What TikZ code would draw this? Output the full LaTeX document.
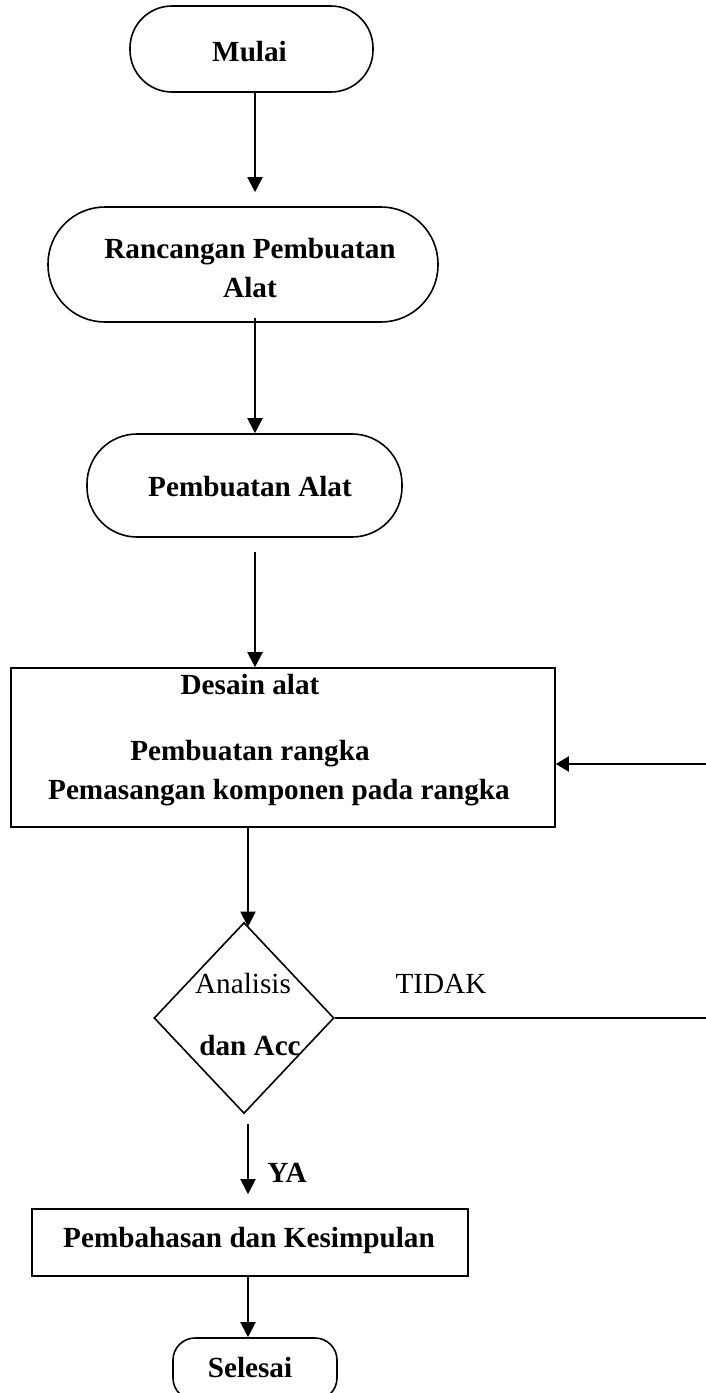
\documentclass[tikz,border=0pt]{standalone}
\usepackage{fontspec}
\setmainfont{Liberation Serif}
\usetikzlibrary{arrows.meta,shapes.geometric}
\tikzset{
  shapebox/.style={draw, line width=1.6pt, inner sep=0pt, rectangle},
  lbl/.style={inner sep=0pt, font=\fontsize{29.2}{39}\selectfont\bfseries},
  lblreg/.style={inner sep=0pt, font=\fontsize{29.2}{39}\selectfont},
  arr/.style={line width=2pt, -{Triangle[length=15pt,width=15pt]}},
  conn/.style={line width=2pt}
}
\begin{document}
\begin{tikzpicture}[x=1pt,y=-1pt]
\useasboundingbox (0,0) rectangle (706,1393);
\fill[white] (0,0) rectangle (706,1393);
% shapes
\node[shapebox, rounded corners=42pt, minimum width=243pt, minimum height=86pt] (mulai) at (251.5,49) {};
\node[shapebox, rounded corners=57pt, minimum width=390pt, minimum height=115pt] (ranc) at (243,264.5) {};
\node[shapebox, rounded corners=50pt, minimum width=315pt, minimum height=103pt] (pemb) at (244.5,485.5) {};
\node[shapebox, minimum width=544pt, minimum height=159pt] (desain) at (283,747.5) {};
\node[draw, line width=1.6pt, shape=diamond, inner sep=0pt, minimum width=180pt, minimum height=191pt] (dia) at (244,1018) {};
\node[shapebox, minimum width=436pt, minimum height=67pt] (bahas) at (250,1242.5) {};
\node[shapebox, rounded corners=22pt, minimum width=164pt, minimum height=62pt] (selesai) at (255,1369) {};
% texts
\node[lbl, anchor=base] (tmulai) at (249.5,61) {Mulai};
\node[lbl, align=center] (tranc) at (250,268) {Rancangan Pembuatan\\Alat};
\node[lbl, anchor=base] (tpemb) at (250,496) {Pembuatan Alat};
\node[lbl, anchor=base] (tdes1) at (250,694) {Desain alat};
\node[lbl, anchor=base] (tdes2) at (250,760) {Pembuatan rangka};
\node[lbl, anchor=base] (tdes3) at (279,799) {Pemasangan komponen pada rangka};
\node[lblreg, anchor=base] (tana) at (243,993) {Analisis};
\node[lbl, anchor=base] (tacc) at (250,1055) {dan Acc};
\node[lblreg, anchor=base] (ttidak) at (441,993) {TIDAK};
\node[lbl, anchor=base] (tya) at (287,1182) {YA};
\node[lbl, anchor=base] (tbahas) at (249,1247) {Pembahasan dan Kesimpulan};
\node[lbl, anchor=base] (tsel) at (250,1377) {Selesai};
% connectors
\coordinate (ax) at (255,0);
\coordinate (bx) at (248,0);
\coordinate (fb) at (709,764);
\draw[arr, shorten >=14pt] (mulai.south -| ax) -- (ranc.north -| ax);
\draw[arr, shorten <=-5pt] (ranc.south -| ax) -- (pemb.north -| ax);
\draw[arr, shorten <=14pt] (pemb.south -| ax) -- (desain.north -| ax);
\draw[arr, shorten >=-5pt] (desain.south -| bx) -- (dia.north -| bx);
\draw[arr, shorten <=10pt, shorten >=14pt] (dia.south -| bx) -- (bahas.north -| bx);
\draw[arr] (bahas.south -| bx) -- (selesai.north -| bx);
\draw[conn] (dia.east) -- (dia.east -| fb) -- (fb);
\draw[line width=2pt, -{Triangle[length=13pt,width=15pt]}] (fb) -- (desain.east |- fb);
\end{tikzpicture}
\end{document}
